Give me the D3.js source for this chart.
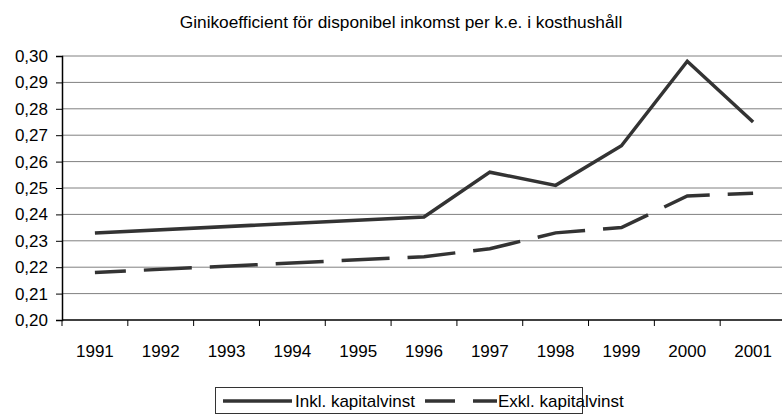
<!DOCTYPE html>
<html lang="sv">
<head>
  <meta charset="utf-8"/>
  <script src="https://d3js.org/d3.v7.min.js"></script>
  <style>
    body { margin: 0; background: #fff; }
    svg { display: block; font-family: "Liberation Sans", Arial, sans-serif; }
  </style>
</head>
<body>
<svg id="chart" width="782" height="415"></svg>
<script>
  // years on the axis, and the years that actually have values
  const years = ["1991","1992","1993","1994","1995","1996","1997","1998","1999","2000","2001"];
  const dataYears = ["1991","1996","1997","1998","1999","2000","2001"];
  const inkl = [0.233, 0.239, 0.256, 0.251, 0.266, 0.298, 0.275];
  const exkl = [0.218, 0.224, 0.227, 0.233, 0.235, 0.247, 0.248];
  const yTicks = [0.20,0.21,0.22,0.23,0.24,0.25,0.26,0.27,0.28,0.29,0.30];

  const svg = d3.select("#chart");
  const margin = { left: 62, right: -4, top: 56, bottom: 95 };
  const width = 782, height = 415;

  const x = d3.scaleBand().domain(years).range([margin.left, width - margin.right]);
  const y = d3.scaleLinear().domain([0.20, 0.30]).range([320, 56]);
  const fmt = v => d3.format(".2f")(v).replace(".", ",");

  // gridlines
  svg.append("g").selectAll("line")
    .data(yTicks.slice(1))
    .join("line")
    .attr("x1", margin.left).attr("x2", width)
    .attr("y1", d => y(d)).attr("y2", d => y(d))
    .attr("stroke", "#808080").attr("stroke-width", 1);

  const yAxis = svg.append("g")
    .attr("transform", `translate(${margin.left},0)`)
    .call(d3.axisLeft(y).tickValues(yTicks).tickFormat(fmt).tickSize(6).tickPadding(8));
  const xAxis = svg.append("g")
    .attr("transform", "translate(0,320)")
    .call(d3.axisBottom(x).tickSize(0).tickPadding(25));

  // tick marks between the categories
  xAxis.selectAll(".sep")
    .data(years)
    .join("line")
    .attr("class", "sep")
    .attr("x1", d => x(d)).attr("x2", d => x(d))
    .attr("y1", 0).attr("y2", 6)
    .attr("stroke", "#000");

  [yAxis, xAxis].forEach(a => {
    a.select(".domain").attr("stroke", "#000").attr("stroke-width", 1.5);
    a.selectAll(".tick line").attr("stroke", "#000");
    a.selectAll("text").attr("font-size", 17).attr("fill", "#000")
      .attr("font-family", "'Liberation Sans', Arial, sans-serif");
  });
  xAxis.select(".domain").attr("d", `M${margin.left},0H${width}`);

  const line = d3.line()
    .x((d, i) => x(dataYears[i]) + x.bandwidth() / 2)
    .y(d => y(d));

  svg.append("path").datum(inkl)
    .attr("d", line).attr("fill", "none")
    .attr("stroke", "#333").attr("stroke-width", 3.5)
    .attr("stroke-linejoin", "miter");
  svg.append("path").datum(exkl)
    .attr("d", line).attr("fill", "none")
    .attr("stroke", "#333").attr("stroke-width", 3.5)
    .attr("stroke-dasharray", "48,18").attr("stroke-dashoffset", 17);

  // title
  svg.append("text")
    .attr("x", 401).attr("y", 28)
    .attr("text-anchor", "middle")
    .attr("font-size", 17.3)
    .text("Ginikoefficient för disponibel inkomst per k.e. i kosthushåll");

  // legend
  const lg = svg.append("g");
  lg.append("rect")
    .attr("x", 215.5).attr("y", 387.5).attr("width", 367).attr("height", 26)
    .attr("fill", "#fff").attr("stroke", "#333").attr("stroke-width", 1);
  lg.append("line").attr("x1", 223).attr("x2", 292).attr("y1", 401).attr("y2", 401)
    .attr("stroke", "#333").attr("stroke-width", 3.5);
  lg.append("text").attr("x", 295).attr("y", 407).attr("font-size", 17).text("Inkl. kapitalvinst");
  lg.append("line").attr("x1", 425).attr("x2", 497).attr("y1", 401).attr("y2", 401)
    .attr("stroke", "#333").attr("stroke-width", 3.5).attr("stroke-dasharray", "30,18");
  lg.append("text").attr("x", 498).attr("y", 407).attr("font-size", 17).text("Exkl. kapitalvinst");
</script>
</body>
</html>
